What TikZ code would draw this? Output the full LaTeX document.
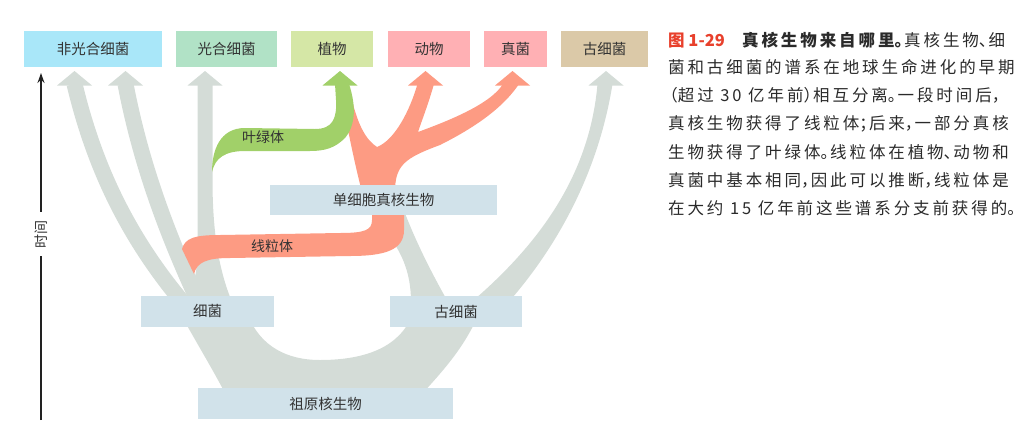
\documentclass[tikz,border=0pt]{standalone}
\usepackage{fontspec}
\setmainfont{Noto Sans CJK SC}
\newfontfamily\capfont{Noto Sans CJK SC}[LetterSpace=17.6]
\newfontfamily\capplain{Noto Sans CJK SC}
\usetikzlibrary{arrows.meta}
\definecolor{graybr}{HTML}{D4DCD7}
\definecolor{salmon}{HTML}{FD9B83}
\definecolor{leaf}{HTML}{A1D069}
\definecolor{boxblue}{HTML}{D1E2EA}
\definecolor{cnon}{HTML}{A9E7F9}
\definecolor{cpho}{HTML}{B1E2C6}
\definecolor{cpla}{HTML}{D5E7A6}
\definecolor{cani}{HTML}{FFB0B4}
\definecolor{carc}{HTML}{DBC9A8}
\definecolor{txt}{HTML}{333333}
\definecolor{capred}{HTML}{E8402C}
\definecolor{captxt}{HTML}{2A2A2A}
\definecolor{axiscol}{HTML}{222222}
\newcommand{\myhead}[2]{\fill[#2] ({#1-17.5},85.5) -- ({#1},71) -- ({#1+17.5},85.5) -- cycle;}
\newcommand{\hpl}[1]{\makebox[9.7pt][l]{#1}}
\newcommand{\hpr}[1]{\makebox[9.7pt][r]{#1}}
\begin{document}
\begin{tikzpicture}[x=1pt,y=-1pt,
  box/.style={rectangle,inner sep=0pt,text=txt,font=\fontsize{14.5}{16}\selectfont},
  topbox/.style={box,minimum height=36pt},
  midbox/.style={box,fill=boxblue,minimum height=31pt},
  lab/.style={inner sep=0pt,text=txt,font=\fontsize{14}{16}\selectfont},
  captext/.style={anchor=west,inner sep=0pt,text=captxt,font=\capfont\fontsize{16.5}{18}\selectfont}]
\useasboundingbox (0,0) rectangle (1031,437);

% ---- gray lineages ----
\fill[graybr] (226,395) .. controls (212,368) and (196,342) .. (184,320) -- (250,320) .. controls (262,345) and (285,360) .. (320,360) .. controls (360,360) and (395,350) .. (410,320) -- (476,320) .. controls (462,350) and (442,372) .. (421,395) -- cycle;
\draw[graybr, line width=16pt] (74.5,84) .. controls (95,170) and (130,240) .. (185,305);
\draw[graybr, line width=16pt] (125.5,84) .. controls (140,160) and (165,230) .. (200,305);
\fill[graybr] (197.5,84) -- (197.5,255) .. controls (197,275) and (192,290) .. (186,302) -- (232,302) .. controls (221,275) and (212.5,240) .. (212.5,180) -- (212.5,84) -- cycle;
\fill[graybr] (384,208) -- (403,208) .. controls (415,240) and (430,270) .. (448,302) -- (411,302) .. controls (411,270) and (400,250) .. (386,232) -- cycle;
\fill[graybr] (597.5,84) .. controls (590,170) and (545,240) .. (468,305) -- (506,305) .. controls (555,250) and (598,175) .. (612.5,84) -- cycle;

% ---- mitochondria band ----
\fill[salmon] (182,249) .. controls (185,238) and (195,235) .. (220,235) -- (340,233) .. controls (365,233) and (372,230) .. (372,220) -- (372,208) -- (404,208) -- (404,230) .. controls (404,250) and (385,256) .. (350,256) -- (230,258) .. controls (207,258) and (197,262) .. (194,274) -- cycle;

% ---- eukaryote tree ----
\fill[salmon] (362,192) .. controls (355,165) and (350,140) .. (344,110) -- (352,100) .. controls (358,125) and (366,140) .. (377,147) .. controls (395,140) and (410,110) .. (417.5,84) -- (434,84) .. controls (428,105) and (422,120) .. (418,132) .. controls (445,122) and (490,105) .. (503,84) -- (519,84) .. controls (505,105) and (480,125) .. (440,145) .. controls (405,158) and (395,165) .. (395,192) -- cycle;

% ---- chloroplast band ----
\fill[leaf] (212,172) .. controls (212,150) and (220,128) .. (245,128) -- (315,129) .. controls (333,129) and (337,118) .. (336,100) -- (335,84) -- (349,84) .. controls (356,105) and (356,125) .. (345,138) .. controls (335,148) and (325,151) .. (310,151) -- (245,151) .. controls (225,151) and (215,158) .. (212,172) -- cycle;

% ---- arrowheads ----
\myhead{74.5}{graybr}
\myhead{125.5}{graybr}
\myhead{205}{graybr}
\myhead{340}{leaf}
\myhead{425.5}{salmon}
\myhead{512.5}{salmon}
\myhead{606}{graybr}

% ---- top boxes ----
\node[topbox, fill=cnon, minimum width=138pt] (n1) at (93,49) {非光合细菌};
\node[topbox, fill=cpho, minimum width=101pt] (n2) at (226.5,49) {光合细菌};
\node[topbox, fill=cpla, minimum width=82pt] (n3) at (332,49) {植物};
\node[topbox, fill=cani, minimum width=82pt] (n4) at (429,49) {动物};
\node[topbox, fill=cani, minimum width=63pt] (n5) at (515.5,49) {真菌};
\node[topbox, fill=carc, minimum width=87pt] (n6) at (604.5,49) {古细菌};

% ---- lower boxes ----
\node[midbox, minimum width=227pt, minimum height=30pt] (euk) at (383.5,200) {单细胞真核生物};
\node[midbox, minimum width=133pt] (bac) at (207.5,311) {细菌};
\node[midbox, minimum width=132pt] (arc) at (456,311.5) {古细菌};
\node[midbox, minimum width=255pt] (anc) at (325.5,403.5) {祖原核生物};

% ---- band labels ----
\node[lab] (lchl) at (263,137) {叶绿体};
\node[lab] (lmit) at (272,246) {线粒体};

% ---- time axis ----
\coordinate (tb) at (41,420);
\coordinate (tt) at (41,73);
\draw[axiscol, line width=2pt, -{Stealth[length=10pt,width=7pt]}] (tb) -- (tt);
\node[lab, fill=white, rotate=90, inner xsep=8pt, inner ysep=3pt] (tl) at (41,234) {时间};

% ---- caption ----
\node[captext] (c1) at (668,40) {\makebox[74pt][l]{\capplain\color{capred}\bfseries 图 1-29}{\bfseries 真核生物来自哪里\hpl{。}}真核生物\hpl{、}细};
\node[captext] (c2) at (668,67.5) {菌和古细菌的谱系在地球生命进化的早期};
\node[captext] (c3) at (668,95.5) {\hpr{（}超过 30 亿年前\hpl{）}相互分离\hpl{。}一段时间后\hpl{，}};
\node[captext] (c4) at (668,123.5) {真核生物获得了线粒体\hpl{；}后来\hpl{，}一部分真核};
\node[captext] (c5) at (668,152) {生物获得了叶绿体\hpl{。}线粒体在植物\hpl{、}动物和};
\node[captext] (c6) at (668,180) {真菌中基本相同\hpl{，}因此可以推断\hpl{，}线粒体是};
\node[captext] (c7) at (668,208) {在大约 15 亿年前这些谱系分支前获得的\hpl{。}};
\end{tikzpicture}
\end{document}
